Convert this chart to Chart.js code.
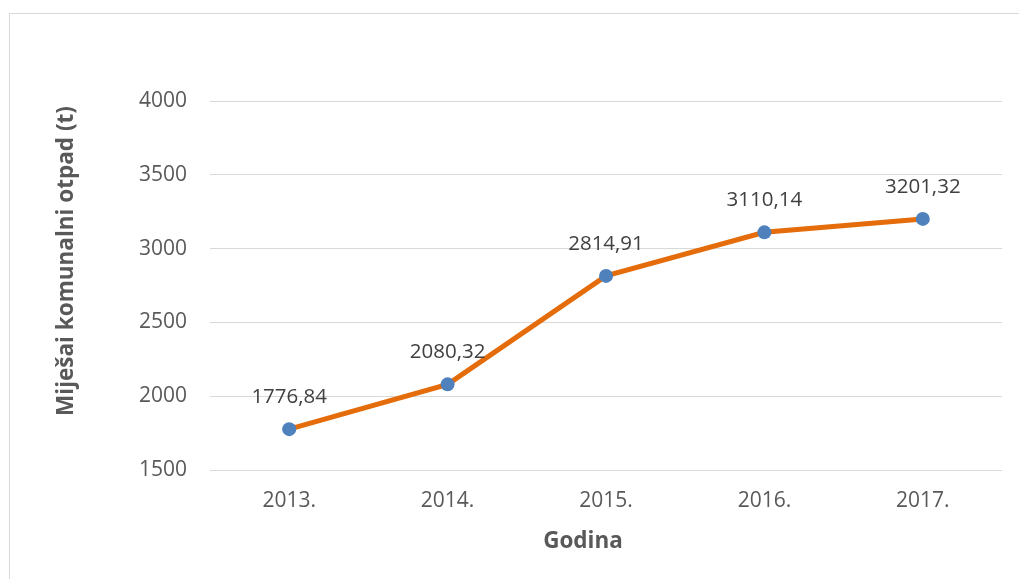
<!DOCTYPE html>
<html>
<head>
<meta charset="utf-8">
<script src="https://cdn.jsdelivr.net/npm/chart.js@4"></script>
<style>
  html, body { margin: 0; padding: 0; background: #ffffff; overflow: hidden; }
  #wrap { position: relative; width: 1019px; height: 579px; }
  #frame { position: absolute; left: 9px; top: 13px; width: 1100px; height: 700px; border: 1px solid #d9d9d9; box-sizing: border-box; }
  canvas { position: absolute; left: 0; top: 0; }
</style>
</head>
<body>
<div id="wrap">
  <div id="frame"></div>
  <canvas id="c" width="1019" height="579"></canvas>
</div>
<script>
const categories = ['2013.', '2014.', '2015.', '2016.', '2017.'];
const values = [1776.84, 2080.32, 2814.91, 3110.14, 3201.32];
const yTicks = [1500, 2000, 2500, 3000, 3500, 4000];
const xTitle = 'Godina';
const yTitle = 'Miješai komunalni otpad (t)';

const FONT = "'Open Sans', 'Liberation Sans', sans-serif";

const labelPlugin = {
  id: 'pointLabels',
  afterDatasetsDraw(chart) {
    const ctx = chart.ctx;
    const meta = chart.getDatasetMeta(0);
    ctx.save();
    ctx.font = '20.5px ' + FONT;
    ctx.fillStyle = '#404040';
    ctx.textAlign = 'center';
    ctx.textBaseline = 'middle';
    meta.data.forEach((pt, i) => {
      const txt = values[i].toFixed(2).replace('.', ',');
      ctx.fillText(txt, pt.x, pt.y - 32);
    });
    // axis titles
    ctx.font = 'bold 22.5px ' + FONT;
    ctx.fillStyle = '#595959';
    ctx.fillText(xTitle, 583, 542);
    ctx.translate(67, 261);
    ctx.rotate(-Math.PI / 2);
    ctx.fillText(yTitle, 0, 0);
    ctx.restore();
  }
};

new Chart(document.getElementById('c'), {
  type: 'line',
  data: {
    labels: categories,
    datasets: [{
      data: values,
      borderColor: '#E46C0A',
      borderWidth: 5,
      pointBackgroundColor: '#4F81BD',
      pointBorderColor: '#4F81BD',
      pointRadius: 7,
      pointBorderWidth: 0,
      tension: 0,
      fill: false
    }]
  },
  options: {
    responsive: false,
    animation: false,
    devicePixelRatio: 1,
    layout: { padding: { left: 40, right: 17, top: 101, bottom: 0 } },
    plugins: { legend: { display: false }, tooltip: { enabled: false } },
    scales: {
      x: {
        offset: true,
        grid: { display: false, drawTicks: false },
        border: { display: false },
        ticks: { color: '#595959', font: { family: FONT, size: 21 }, padding: 18 },
        afterFit(scale) { scale.height = 109; }
      },
      y: {
        min: 1500,
        max: 4000,
        afterBuildTicks(scale) { scale.ticks = yTicks.map(v => ({ value: v })); },
        grid: { color: '#d9d9d9', lineWidth: 1, drawTicks: false },
        border: { display: false },
        ticks: { color: '#595959', font: { family: FONT, size: 21 }, padding: 23, callback: v => String(v) },
        afterFit(scale) { scale.width = 170; }
      }
    }
  },
  plugins: [labelPlugin]
});
</script>
</body>
</html>
